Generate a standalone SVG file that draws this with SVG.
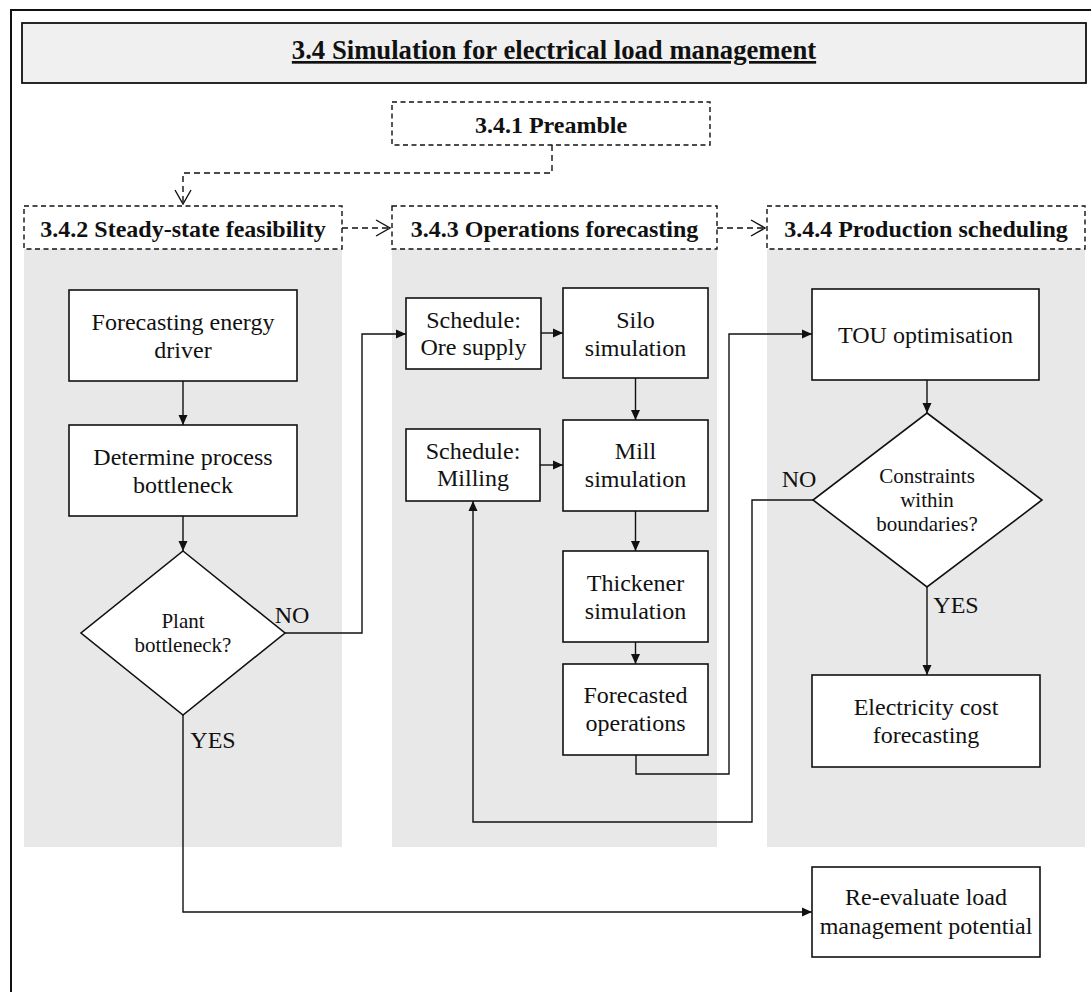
<svg xmlns="http://www.w3.org/2000/svg" width="1091" height="992" viewBox="0 0 1091 992">
<defs>
<style>
.t{font-family:"Liberation Serif","Times New Roman",serif;font-size:24px;fill:#111;text-anchor:middle}
.b{font-weight:bold}
.s{font-size:21px}
.box{fill:#fff;stroke:#111;stroke-width:1.6}
.dash{fill:#fff;stroke:#111;stroke-width:1.4;stroke-dasharray:5,3.5}
.panel{fill:#e8e8e8;stroke:none}
.c{fill:none;stroke:#111;stroke-width:1.4}
.cd{fill:none;stroke:#111;stroke-width:1.4;stroke-dasharray:6,4}
</style>
<marker id="a" viewBox="0 0 10 10" refX="10" refY="5" markerWidth="10" markerHeight="10" markerUnits="userSpaceOnUse" orient="auto">
<path d="M0,0.5 L10,5 L0,9.5 z" fill="#111"/>
</marker>
<marker id="o" viewBox="0 0 16 18" refX="15" refY="9" markerWidth="16" markerHeight="18" markerUnits="userSpaceOnUse" orient="auto">
<path d="M1,1 L15,9 L1,17" fill="none" stroke="#111" stroke-width="1.4"/>
</marker>
</defs>
<rect width="1091" height="992" fill="#fff"/>
<rect x="11" y="10" width="1200" height="1200" fill="none" stroke="#111" stroke-width="2"/>
<g id="title">
<rect x="22" y="23" width="1064" height="60" fill="#f0f0f0" stroke="#111" stroke-width="1.8"/>
<text class="t b" x="554" y="59" style="font-size:26.7px" text-decoration="underline">3.4 Simulation for electrical load management</text>
</g>
<g id="panels">
<rect class="panel" x="24" y="249" width="318" height="598"/>
<rect class="panel" x="392" y="249" width="325" height="598"/>
<rect class="panel" x="767" y="249" width="318" height="598"/>
</g>
<g id="h1"><rect class="dash" x="392" y="102" width="318" height="43"/><text class="t b" x="551" y="133">3.4.1 Preamble</text></g>
<g id="h2"><rect class="dash" x="24" y="206" width="318" height="43"/><text class="t b" x="183" y="237">3.4.2 Steady-state feasibility</text></g>
<g id="h3"><rect class="dash" x="392" y="206" width="325" height="43"/><text class="t b" x="554.5" y="237">3.4.3 Operations forecasting</text></g>
<g id="h4"><rect class="dash" x="767" y="206" width="318" height="43"/><text class="t b" x="926" y="237">3.4.4 Production scheduling</text></g>
<g id="connectors">
<path class="cd" d="M552,145 V173 H183 V204" marker-end="url(#o)"/>
<path class="cd" d="M342,228 H390" marker-end="url(#o)"/>
<path class="cd" d="M717,228 H765" marker-end="url(#o)"/>
<path class="c" d="M183,381 V425" marker-end="url(#a)"/>
<path class="c" d="M183,516 V551" marker-end="url(#a)"/>
<path class="c" d="M285,633 H362 V334 H406" marker-end="url(#a)"/>
<path class="c" d="M541,333 H563" marker-end="url(#a)"/>
<path class="c" d="M635.5,378 V420" marker-end="url(#a)"/>
<path class="c" d="M540,465 H563" marker-end="url(#a)"/>
<path class="c" d="M635.5,511 V551" marker-end="url(#a)"/>
<path class="c" d="M635.5,642 V664" marker-end="url(#a)"/>
<path class="c" d="M636,755 V774 H729 V334 H812" marker-end="url(#a)"/>
<path class="c" d="M927,380 V413" marker-end="url(#a)"/>
<path class="c" d="M927,587 V675" marker-end="url(#a)"/>
<path class="c" d="M813,500 H752 V822 H473 V501" marker-end="url(#a)"/>
<path class="c" d="M183,715 V912 H812" stroke-width="1.8" marker-end="url(#a)"/>
<text class="t" x="292" y="623">NO</text>
<text class="t" x="213" y="748">YES</text>
<text class="t" x="799" y="487">NO</text>
<text class="t" x="956" y="613">YES</text>
</g>
<g id="n1"><rect class="box" x="69" y="290" width="228" height="91"/><text class="t" x="183" y="330">Forecasting energy</text><text class="t" x="183" y="358">driver</text></g>
<g id="n2"><rect class="box" x="69" y="425" width="228" height="91"/><text class="t" x="183" y="465">Determine process</text><text class="t" x="183" y="493">bottleneck</text></g>
<g id="d1"><polygon class="box" points="183,551 285,633 183,715 81,633"/><text class="t s" x="183" y="628">Plant</text><text class="t s" x="183" y="652">bottleneck?</text></g>
<g id="n3"><rect class="box" x="406" y="298" width="135" height="71"/><text class="t" x="473.5" y="328">Schedule:</text><text class="t" x="473.5" y="355">Ore supply</text></g>
<g id="n4"><rect class="box" x="563" y="288" width="145" height="90"/><text class="t" x="635.5" y="328">Silo</text><text class="t" x="635.5" y="356">simulation</text></g>
<g id="n5"><rect class="box" x="406" y="429" width="134" height="72"/><text class="t" x="473" y="459">Schedule:</text><text class="t" x="473" y="486">Milling</text></g>
<g id="n6"><rect class="box" x="563" y="420" width="145" height="91"/><text class="t" x="635.5" y="459">Mill</text><text class="t" x="635.5" y="487">simulation</text></g>
<g id="n7"><rect class="box" x="563" y="551" width="145" height="91"/><text class="t" x="635.5" y="591">Thickener</text><text class="t" x="635.5" y="619">simulation</text></g>
<g id="n8"><rect class="box" x="563" y="664" width="145" height="91"/><text class="t" x="635.5" y="703">Forecasted</text><text class="t" x="635.5" y="731">operations</text></g>
<g id="n9"><rect class="box" x="812" y="289" width="227" height="91"/><text class="t" x="925.5" y="343">TOU optimisation</text></g>
<g id="d2"><polygon class="box" points="927,413 1042,500 927,587 813,500"/><text class="t s" x="927" y="483">Constraints</text><text class="t s" x="927" y="507">within</text><text class="t s" x="927" y="531">boundaries?</text></g>
<g id="n10"><rect class="box" x="812" y="675" width="228" height="92"/><text class="t" x="926" y="715">Electricity cost</text><text class="t" x="926" y="743">forecasting</text></g>
<g id="n11"><rect class="box" x="812" y="867" width="228" height="90"/><text class="t" x="926" y="905">Re-evaluate load</text><text class="t" x="926" y="934">management potential</text></g>
</svg>
